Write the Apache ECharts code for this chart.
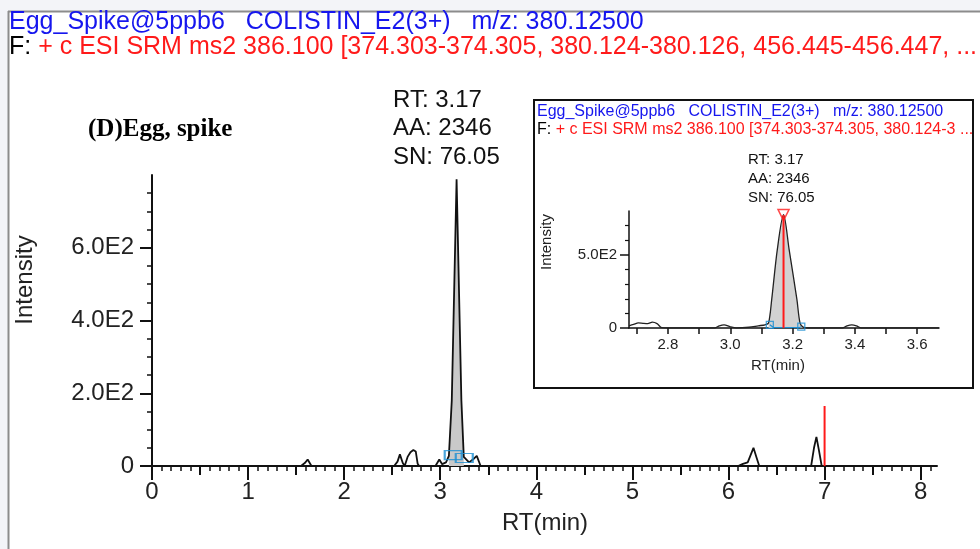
<!DOCTYPE html>
<html>
<head>
<meta charset="utf-8">
<script src="https://cdn.jsdelivr.net/npm/echarts@6/dist/echarts.min.js"></script>
<style>
  html, body { margin: 0; padding: 0; background: #fff; }
  #chart { width: 980px; height: 549px; }
</style>
</head>
<body>
<div id="chart"></div>
<script>
// main chromatogram (RT in min, intensity)
const mainRt = [0, 1.55, 1.59, 1.62, 1.66, 2.52, 2.555, 2.58, 2.61, 2.63, 2.66, 2.69, 2.72, 2.745, 2.765, 2.78,
  2.95, 2.99, 3.02, 3.06, 3.09, 3.12, 3.17, 3.22, 3.245, 3.30, 3.35, 3.38, 3.42,
  6.10, 6.15, 6.20, 6.23, 6.26, 6.29, 6.32, 6.86, 6.89, 6.915, 6.94, 6.97, 8.17];
const mainIntensity = [0, 0, 8, 18, 0, 0, 12, 32, 8, 0, 25, 38, 44, 40, 6, 0,
  0, 18, 5, 10, 28, 180, 788, 180, 25, 10, 20, 28, 0,
  0, 6, 10, 30, 50, 25, 0, 0, 50, 80, 45, 0, 0];
const mainPeakRange = [3.09, 3.245];
const mainMarkerLine = [[7, 0], [7, 165]];
const mainBaseRects = [[3.135, 30], [3.25, 22]];

// zoomed inset
const insetRt = [2.675, 2.69, 2.705, 2.72, 2.735, 2.75, 2.765, 2.78, 2.80, 2.95, 2.965, 2.98, 3.00, 3.02,
  3.06, 3.09, 3.112, 3.123, 3.133, 3.151, 3.171, 3.189, 3.214, 3.224, 3.235, 3.25,
  3.36, 3.375, 3.39, 3.405, 3.42, 3.67];
const insetIntensity = [15, 25, 35, 32, 30, 40, 30, 2, 0, 0, 15, 22, 8, 0,
  5, 15, 22, 34, 194, 536, 775, 536, 194, 34, 5, 0,
  0, 15, 22, 15, 0, 0];
const insetPeakRange = [3.123, 3.235];
const insetApex = [[3.171, 772]];
const insetRedLine = [[3.171, 0], [3.171, 772]];
const insetBaseSquares = [[3.127, 22], [3.228, 9]];
const insetBaseLine = [[3.127, 22], [3.14, 2], [3.22, 2], [3.228, 9]];

// ticks and labels
const mainYTicks = [0, 200, 400, 600];
const mainYLabels = ['0', '2.0E2', '4.0E2', '6.0E2'];
const mainYMinor = [50, 100, 150, 250, 300, 350, 450, 500, 550, 650, 700, 750];
const mainXTicks = [0, 1, 2, 3, 4, 5, 6, 7, 8];
const mainXHalf = [0.5, 1.5, 2.5, 3.5, 4.5, 5.5, 6.5, 7.5];
const mainXMinor = [];
for (let i = 0; i <= 81; i++) mainXMinor.push(+(i / 10).toFixed(1));
const insetXTicks = [2.7, 2.8, 2.9, 3.0, 3.1, 3.2, 3.3, 3.4, 3.5, 3.6];
const insetXLabels = [2.8, 3.0, 3.2, 3.4, 3.6];
const insetYTicks = [0, 500];
const insetYLabels = ['0', '5.0E2'];
const insetYMinor = [100, 200, 300, 400, 600, 700];

const pairs = (xs, ys) => xs.map((x, i) => [x, ys[i]]);
const inRange = (d, r) => d.filter(p => p[0] >= r[0] && p[0] <= r[1]);

const mainData = pairs(mainRt, mainIntensity);
const insetData = pairs(insetRt, insetIntensity);

const FONT = 'Liberation Sans, Arial, sans-serif';
const BLUE = '#1616ee';
const RED = '#ff1a1a';
const AXIS = '#111';

const chart = echarts.init(document.getElementById('chart'));

function tickAxis(extra) {
  return Object.assign({
    type: 'value',
    axisLine: { show: false },
    axisLabel: { show: false },
    splitLine: { show: false }
  }, extra);
}

const option = {
  animation: false,
  grid: [
    { left: 152, top: 175, width: 785, height: 291 },
    { left: 629, top: 211, width: 310, height: 117 }
  ],
  xAxis: [
    {
      type: 'value', gridIndex: 0, min: 0, max: 8.17, position: 'bottom',
      axisLine: { lineStyle: { color: AXIS, width: 2 } },
      axisTick: { customValues: mainXTicks, length: 14, lineStyle: { color: AXIS, width: 2 } },
      axisLabel: { customValues: mainXTicks, fontSize: 24, fontFamily: FONT, color: '#222', margin: 14 },
      splitLine: { show: false }
    },
    tickAxis({ gridIndex: 0, min: 0, max: 8.17, position: 'bottom',
      axisTick: { customValues: mainXHalf, length: 9, lineStyle: { color: AXIS, width: 2 } } }),
    tickAxis({ gridIndex: 0, min: 0, max: 8.17, position: 'bottom',
      axisTick: { customValues: mainXMinor, length: 5, lineStyle: { color: AXIS, width: 1.5 } } }),
    {
      type: 'value', gridIndex: 1, min: 2.675, max: 3.67, position: 'bottom',
      axisLine: { lineStyle: { color: AXIS, width: 1.5 } },
      axisTick: { customValues: insetXTicks, length: 6, lineStyle: { color: AXIS, width: 1.5 } },
      axisLabel: { customValues: insetXLabels, fontSize: 15, fontFamily: FONT, color: '#222', margin: 9,
        formatter: v => v.toFixed(1) },
      splitLine: { show: false }
    }
  ],
  yAxis: [
    {
      type: 'value', gridIndex: 0, min: 0, max: 800, position: 'left',
      axisLine: { show: true, lineStyle: { color: AXIS, width: 2 } },
      axisTick: { show: true, customValues: mainYTicks, length: 12, lineStyle: { color: AXIS, width: 2 } },
      axisLabel: { customValues: mainYTicks, fontSize: 24, fontFamily: FONT, color: '#222', margin: 18,
        formatter: v => mainYLabels[mainYTicks.indexOf(v)] },
      splitLine: { show: false }
    },
    tickAxis({ gridIndex: 0, min: 0, max: 800, position: 'left',
      axisTick: { show: true, customValues: mainYMinor, length: 5, lineStyle: { color: AXIS, width: 1.5 } } }),
    {
      type: 'value', gridIndex: 1, min: 0, max: 800, position: 'left',
      axisLine: { show: true, lineStyle: { color: AXIS, width: 1.5 } },
      axisTick: { show: true, customValues: insetYTicks, length: 9, lineStyle: { color: AXIS, width: 1.5 } },
      axisLabel: { customValues: insetYTicks, fontSize: 15, fontFamily: FONT, color: '#222', margin: 12,
        formatter: v => insetYLabels[insetYTicks.indexOf(v)] },
      splitLine: { show: false }
    },
    tickAxis({ gridIndex: 1, min: 0, max: 800, position: 'left',
      axisTick: { show: true, customValues: insetYMinor, length: 4, lineStyle: { color: AXIS, width: 1.2 } } })
  ],
  series: [
    // main
    {
      type: 'line', xAxisIndex: 0, yAxisIndex: 0, data: inRange(mainData, mainPeakRange),
      showSymbol: false, lineStyle: { width: 0 }, areaStyle: { color: '#c9c9c9', opacity: 1 }, z: 2
    },
    {
      type: 'line', xAxisIndex: 0, yAxisIndex: 0, data: mainData,
      showSymbol: false, lineStyle: { color: '#111', width: 1.8 }, z: 3
    },
    {
      type: 'line', xAxisIndex: 0, yAxisIndex: 0, data: mainMarkerLine,
      showSymbol: false, lineStyle: { color: RED, width: 2 }, z: 4
    },
    {
      type: 'scatter', xAxisIndex: 0, yAxisIndex: 0, data: mainBaseRects,
      symbol: 'rect', symbolSize: [17, 9],
      itemStyle: { color: 'rgba(0,0,0,0)', borderColor: '#1b8fd2', borderWidth: 1.6 }, z: 5
    },
    // inset
    {
      type: 'line', xAxisIndex: 3, yAxisIndex: 2, data: inRange(insetData, insetPeakRange),
      smooth: 0.3, showSymbol: false, lineStyle: { width: 0 }, areaStyle: { color: '#d2d2d2', opacity: 1 }, z: 2
    },
    {
      type: 'line', xAxisIndex: 3, yAxisIndex: 2, data: insetData,
      smooth: 0.3, showSymbol: false, lineStyle: { color: '#222', width: 1.3 }, z: 3
    },
    {
      type: 'line', xAxisIndex: 3, yAxisIndex: 2, data: insetBaseLine,
      showSymbol: false, lineStyle: { color: '#1b8fd2', width: 1.2 }, z: 4
    },
    {
      type: 'line', xAxisIndex: 3, yAxisIndex: 2, data: insetRedLine,
      showSymbol: false, lineStyle: { color: RED, width: 2 }, z: 5
    },
    {
      type: 'scatter', xAxisIndex: 3, yAxisIndex: 2, data: insetBaseSquares,
      symbol: 'rect', symbolSize: 7,
      itemStyle: { color: 'rgba(0,0,0,0)', borderColor: '#1b8fd2', borderWidth: 1.3 }, z: 6
    },
    {
      type: 'scatter', xAxisIndex: 3, yAxisIndex: 2, data: insetApex,
      symbol: 'triangle', symbolRotate: 180, symbolSize: 11,
      itemStyle: { color: 'rgba(0,0,0,0)', borderColor: RED, borderWidth: 1.5 }, z: 6
    }
  ],
  graphic: [
    { type: 'rect', z: -5, shape: { x: 0, y: 0, width: 980, height: 11 }, style: { fill: '#f3f4f8' } },
    { type: 'rect', z: -5, shape: { x: 0, y: 0, width: 8, height: 549 }, style: { fill: '#f3f4f8' } },
    { type: 'line', z: -4, shape: { x1: 8, y1: 11.5, x2: 980, y2: 11.5 }, style: { stroke: '#8c8c8c', lineWidth: 2 } },
    { type: 'line', z: -4, shape: { x1: 8.5, y1: 11, x2: 8.5, y2: 549 }, style: { stroke: '#8c8c8c', lineWidth: 2 } },
    {
      type: 'text', x: 9, y: 22, z: 10,
      style: { text: 'Egg_Spike@5ppb6   COLISTIN_E2(3+)   m/z: 380.12500', font: '25px ' + FONT, fill: BLUE, verticalAlign: 'middle' }
    },
    {
      type: 'text', x: 9, y: 47, z: 10,
      style: {
        text: '{b|F:} {r|+ c ESI SRM ms2 386.100 [374.303-374.305, 380.124-380.126, 456.445-456.447, ...}',
        verticalAlign: 'middle',
        rich: {
          b: { fontSize: 25, fontFamily: FONT, fill: '#000' },
          r: { fontSize: 25, fontFamily: FONT, fill: RED }
        },
        font: '25px ' + FONT
      }
    },
    {
      type: 'text', x: 88, y: 130, z: 10,
      style: { text: '(D)Egg, spike', font: 'bold 25px Liberation Serif, serif', fill: '#000', verticalAlign: 'middle' }
    },
    {
      type: 'text', x: 393, y: 86, z: 10,
      style: { text: 'RT: 3.17\nAA: 2346\nSN: 76.05', font: '24px ' + FONT, lineHeight: 28.5, fill: '#111', verticalAlign: 'top' }
    },
    {
      type: 'text', x: 25, y: 280, rotation: Math.PI / 2, z: 10,
      style: { text: 'Intensity', font: '24px ' + FONT, fill: '#222', align: 'center', verticalAlign: 'middle' }
    },
    {
      type: 'text', x: 545, y: 523, z: 10,
      style: { text: 'RT(min)', font: '24px ' + FONT, fill: '#222', align: 'center', verticalAlign: 'middle' }
    },
    // inset frame and texts
    { type: 'rect', z: -3, shape: { x: 534, y: 100, width: 439, height: 288 }, style: { fill: '#fff', stroke: '#111', lineWidth: 2 } },
    {
      type: 'text', x: 537, y: 112, z: 10,
      style: { text: 'Egg_Spike@5ppb6   COLISTIN_E2(3+)   m/z: 380.12500', font: '16px ' + FONT, fill: BLUE, verticalAlign: 'middle' }
    },
    {
      type: 'text', x: 537, y: 130, z: 10,
      style: {
        text: '{b|F:} {r|+ c ESI SRM ms2 386.100 [374.303-374.305, 380.124-3 ...}',
        verticalAlign: 'middle',
        rich: {
          b: { fontSize: 16, fontFamily: FONT, fill: '#000' },
          r: { fontSize: 16, fontFamily: FONT, fill: RED }
        },
        font: '16px ' + FONT
      }
    },
    {
      type: 'text', x: 748, y: 150.5, z: 10,
      style: { text: 'RT: 3.17\nAA: 2346\nSN: 76.05', font: '15px ' + FONT, lineHeight: 19, fill: '#111', verticalAlign: 'top' }
    },
    {
      type: 'text', x: 547, y: 242, rotation: Math.PI / 2, z: 10,
      style: { text: 'Intensity', font: '15px ' + FONT, fill: '#222', align: 'center', verticalAlign: 'middle' }
    },
    {
      type: 'text', x: 778, y: 366, z: 10,
      style: { text: 'RT(min)', font: '15px ' + FONT, fill: '#222', align: 'center', verticalAlign: 'middle' }
    }
  ]
};

chart.setOption(option);
</script>
</body>
</html>
